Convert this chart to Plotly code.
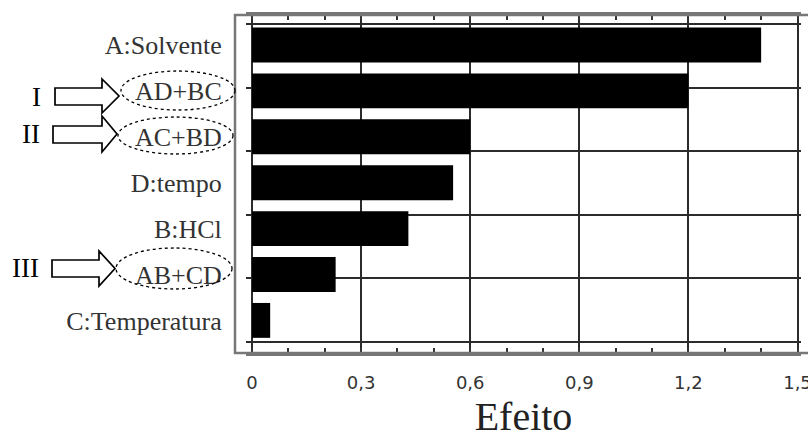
import plotly.graph_objects as go

# Effects of the factors and interactions (top to bottom)
factors = ["A:Solvente", "AD+BC", "AC+BD", "D:tempo", "B:HCl", "AB+CD", "C:Temperatura"]
effects = [1.40, 1.20, 0.60, 0.553, 0.43, 0.23, 0.05]

x_tick_vals = [0, 0.3, 0.6, 0.9, 1.2, 1.5]
x_tick_text = ["0", "0,3", "0,6", "0,9", "1,2", "1,5"]
grid_rows = [0, 1, 2, 3, 4, 5]

# Highlighted aliased interactions: label, marker text
highlights = [("AD+BC", "I"), ("AC+BD", "II"), ("AB+CD", "III")]

W, H = 808, 439
ML, MR, MT, MB = 246, 7, 15, 86
PW, PH = W - ML - MR, H - MT - MB


def px(x):
    return (x - ML) / PW


def py(y):
    return (H - MB - y) / PH


SERIF = "Liberation Serif"
GRID = "#2b2b2b"
FRAME = "#777777"

fig = go.Figure()
fig.add_trace(go.Bar(
    x=effects, y=factors, orientation="h",
    marker=dict(color="black", line=dict(width=0)),
    hoverinfo="x+y", showlegend=False,
))
# carrier for the horizontal grid axis
fig.add_trace(go.Scatter(x=[], y=[], yaxis="y2", showlegend=False, hoverinfo="skip"))

shapes = []
# outer frame
shapes.append(dict(type="rect", xref="paper", yref="paper",
                   x0=px(235), x1=px(814), y0=py(353), y1=py(15),
                   line=dict(color=FRAME, width=2.5), layer="above"))


def block_arrow(x0, x1, xt, ys0, ys1, yh0, yh1):
    yc = (yh0 + yh1) / 2
    pts = [(x0, ys0), (x1, ys0), (x1, yh0), (xt, yc), (x1, yh1), (x1, ys1), (x0, ys1)]
    d = "M " + " L ".join(f"{px(a):.5f},{py(b):.5f}" for a, b in pts) + " Z"
    return dict(type="path", xref="paper", yref="paper", path=d,
                fillcolor="white", line=dict(color="black", width=1.7), layer="above")


arrow_geom = {
    "I": (55, 102, 119, 88, 105, 79, 113),
    "II": (53, 102, 117, 126, 143, 116, 152),
    "III": (52, 99, 115, 260, 277, 251, 286),
}
ellipse_geom = {
    "AD+BC": (121, 235, 71, 110),
    "AC+BD": (118, 233, 117, 154),
    "AB+CD": (116, 232, 248, 289),
}
numeral_pos = {"I": (36, 97), "II": (31, 134), "III": (25, 268)}

annotations = []
for label, mark in highlights:
    shapes.append(block_arrow(*arrow_geom[mark]))
    ex0, ex1, ey0, ey1 = ellipse_geom[label]
    shapes.append(dict(type="circle", xref="paper", yref="paper",
                       x0=px(ex0), x1=px(ex1), y0=py(ey1), y1=py(ey0),
                       line=dict(color="black", width=1.3, dash="dot"), layer="above"))
    nx, ny = numeral_pos[mark]
    annotations.append(dict(text=mark, xref="paper", yref="paper",
                            x=px(nx), y=py(ny), xanchor="center", yanchor="middle",
                            showarrow=False, font=dict(family=SERIF, size=27, color="black")))

# pixel -> category index mapping for the bar axis (index 0 at the top)
c_top, c_step = 45.0, 45.9
y_range = [(353 - c_top) / c_step, (15 - c_top) / c_step]

fig.update_layout(
    width=W, height=H,
    margin=dict(l=ML, r=MR, t=MT, b=MB, pad=0, autoexpand=False),
    paper_bgcolor="white", plot_bgcolor="white",
    bargap=0.24,
    separators=",.",
    shapes=shapes,
    annotations=annotations,
    xaxis=dict(
        range=[(ML - 252) / 363.67, (ML + PW - 252) / 363.67],
        tickmode="array", tickvals=x_tick_vals, ticktext=x_tick_text,
        ticks="outside", ticklen=12, tickcolor="rgba(0,0,0,0)",
        showgrid=True, gridcolor=GRID, gridwidth=1.5,
        zeroline=False, automargin=False,
        showline=True, linecolor=FRAME, linewidth=2.5, mirror="ticks",
        minor=dict(tickmode="linear", tick0=0, dtick=0.1, ticks="inside",
                   ticklen=5, tickcolor="#333", tickwidth=1.5, showgrid=False),
        tickfont=dict(family="DejaVu Sans", size=18, color="#333"),
        ticklabeloverflow="allow",
        title=dict(text="Efeito", standoff=10,
                   font=dict(family=SERIF, size=40, color="#222")),
        fixedrange=True,
    ),
    yaxis=dict(
        type="category", range=y_range,
        showgrid=False, zeroline=False, showline=False, automargin=False,
        ticks="outside", ticklen=18, tickcolor="rgba(0,0,0,0)",
        tickfont=dict(family=SERIF, size=26, color="#333"),
        fixedrange=True,
    ),
    yaxis2=dict(
        overlaying="y", side="left",
        range=[-11 / 63.6, 5 + 9 / 63.6],
        tickmode="array", tickvals=grid_rows,
        showticklabels=False, ticks="", automargin=False,
        showgrid=True, gridcolor=GRID, gridwidth=1.5,
        zeroline=False, showline=False, fixedrange=True,
    ),
)

fig.write_html("out.html")
